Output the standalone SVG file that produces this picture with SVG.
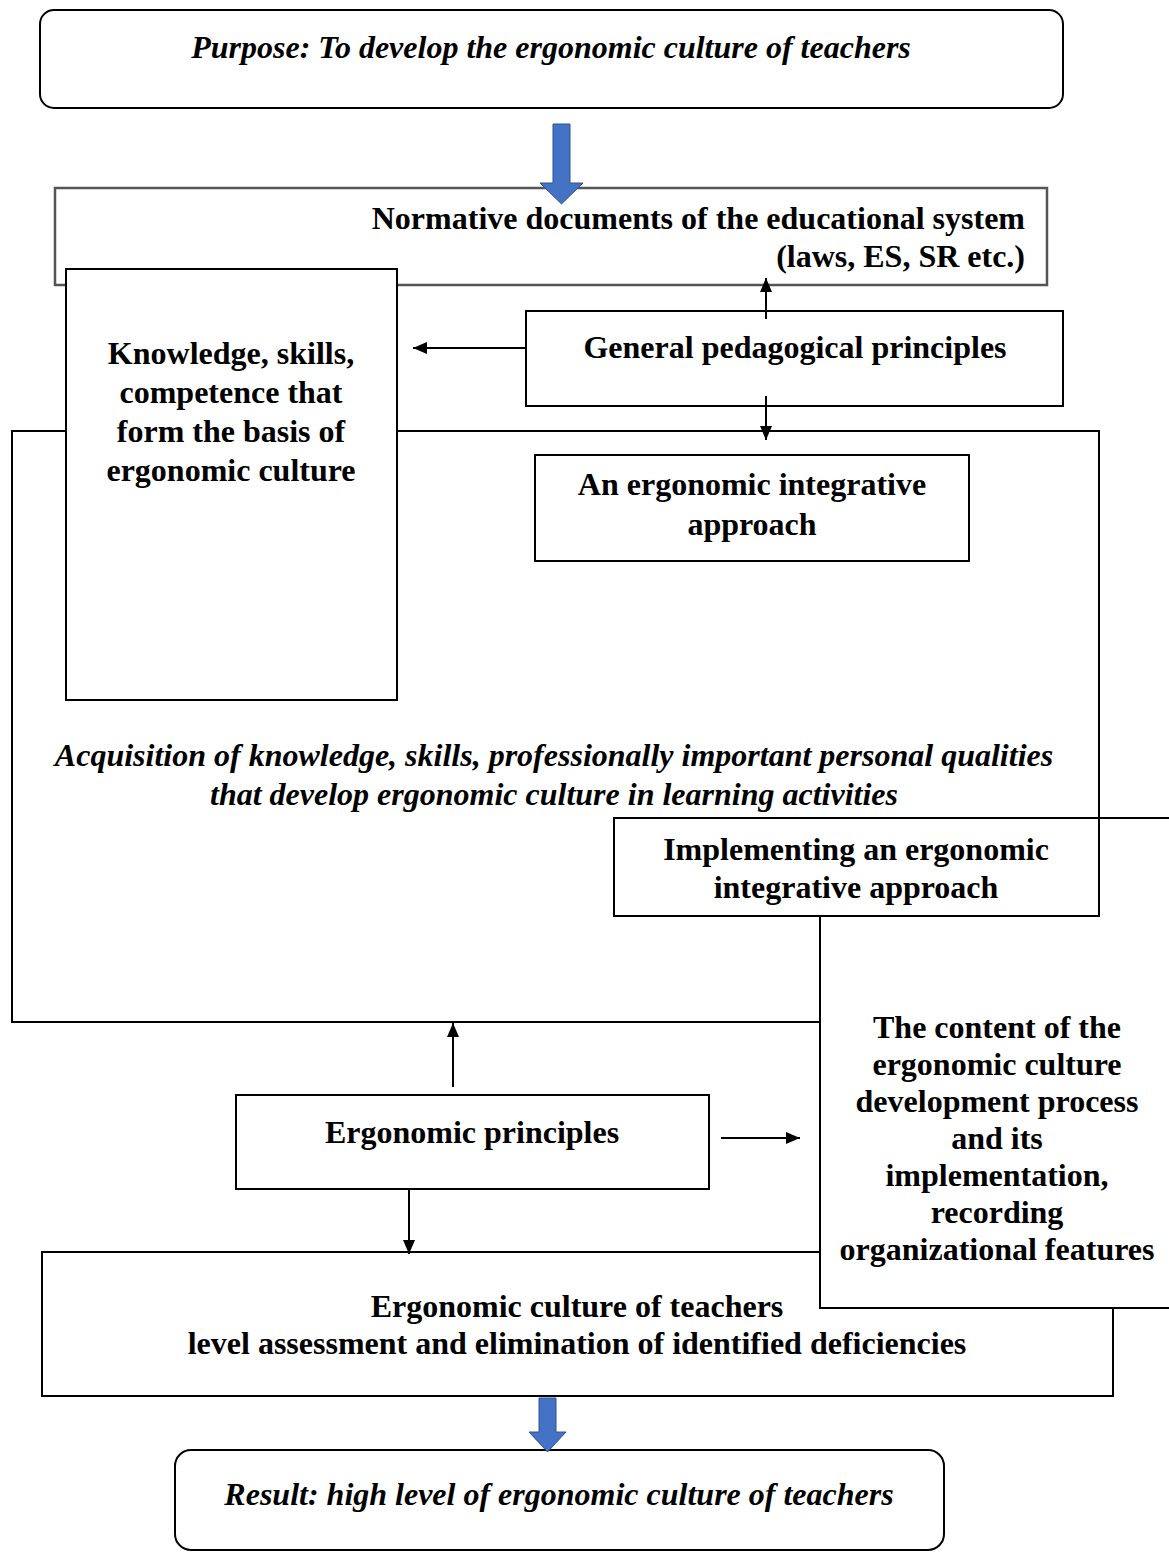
<svg xmlns="http://www.w3.org/2000/svg" width="1169" height="1553" viewBox="0 0 1169 1553">
<defs>
<style>
.box{fill:#fff;stroke:#000;stroke-width:2}
.frame{fill:none;stroke:#000;stroke-width:2}
.gray{fill:#fff;stroke:#555;stroke-width:2.5}
.t{font-family:"Liberation Serif","Times New Roman",serif;font-size:32px;font-weight:bold;fill:#000}
.i{font-style:italic}
.c{text-anchor:middle}
.e{text-anchor:end}
.conn{stroke:#000;stroke-width:2;fill:none;marker-end:url(#ah)}
.blue{fill:#4472C4;stroke:#2F528F;stroke-width:1}
</style>
<marker id="ah" markerUnits="userSpaceOnUse" markerWidth="14" markerHeight="12" viewBox="0 0 14 12" refX="14" refY="6" orient="auto">
<path d="M0,0 L14,6 L0,12 z" fill="#000"/>
</marker>
</defs>
<rect width="1169" height="1553" fill="#fff"/>

<g id="purpose">
<rect class="box" x="40" y="10" width="1023" height="98" rx="14"/>
<text class="t i c" x="551" y="58">Purpose: To develop the ergonomic culture of teachers</text>
</g>

<g id="frame-acquisition">
<rect class="frame" x="12" y="431" width="1087" height="591"/>
<text class="t i c" x="554" y="766">Acquisition of knowledge, skills, professionally important personal qualities</text>
<text class="t i c" x="554" y="805">that develop ergonomic culture in learning activities</text>
</g>

<g id="normative">
<rect class="gray" x="55" y="188" width="992" height="97"/>
<text class="t e" x="1025" y="229">Normative documents of the educational system</text>
<text class="t e" x="1025" y="267">(laws, ES, SR etc.)</text>
</g>

<g id="knowledge">
<rect class="box" x="66" y="269" width="331" height="431"/>
<text class="t c" x="231" y="364">Knowledge, skills,</text>
<text class="t c" x="231" y="403">competence that</text>
<text class="t c" x="231" y="442">form the basis of</text>
<text class="t c" x="231" y="481">ergonomic culture</text>
</g>

<g id="general">
<rect class="box" x="526" y="311" width="537" height="95"/>
<text class="t c" x="795" y="358">General pedagogical principles</text>
</g>

<g id="integrative">
<rect class="box" x="535" y="455" width="434" height="106"/>
<text class="t c" x="752" y="495">An ergonomic integrative</text>
<text class="t c" x="752" y="535">approach</text>
</g>

<g id="ergculture">
<rect class="box" x="42" y="1252" width="1071" height="144"/>
<text class="t c" x="577" y="1317">Ergonomic culture of teachers</text>
<text class="t c" x="577" y="1354">level assessment and elimination of identified deficiencies</text>
</g>

<g id="content">
<rect class="box" x="820" y="818" width="370" height="490"/>
<text class="t c" x="997" y="1038">The content of the</text>
<text class="t c" x="997" y="1075">ergonomic culture</text>
<text class="t c" x="997" y="1112">development process</text>
<text class="t c" x="997" y="1149">and its</text>
<text class="t c" x="997" y="1186">implementation,</text>
<text class="t c" x="997" y="1223">recording</text>
<text class="t c" x="997" y="1260">organizational features</text>
</g>

<g id="implementing">
<rect class="box" x="614" y="818" width="485" height="98"/>
<text class="t c" x="856" y="860">Implementing an ergonomic</text>
<text class="t c" x="856" y="898">integrative approach</text>
</g>

<g id="ergprinciples">
<rect class="box" x="236" y="1095" width="473" height="94"/>
<text class="t c" x="472" y="1143">Ergonomic principles</text>
</g>

<g id="result">
<rect class="box" x="175" y="1450" width="769" height="100" rx="16"/>
<text class="t i c" x="559" y="1505">Result: high level of ergonomic culture of teachers</text>
</g>

<g id="connectors">
<polygon class="blue" points="553,124 570,124 570,183 583,183 561.5,204 540,183 553,183"/>
<polygon class="blue" points="539,1398 556,1398 556,1432 566,1432 547.5,1452 529,1432 539,1432"/>
<line class="conn" x1="526" y1="348" x2="413" y2="348"/>
<line class="conn" x1="766" y1="319" x2="766" y2="278"/>
<line class="conn" x1="766" y1="396" x2="766" y2="440"/>
<line class="conn" x1="453" y1="1087" x2="453" y2="1023"/>
<line class="conn" x1="409" y1="1189" x2="409" y2="1254"/>
<line class="conn" x1="721" y1="1138" x2="800" y2="1138"/>
</g>
</svg>
